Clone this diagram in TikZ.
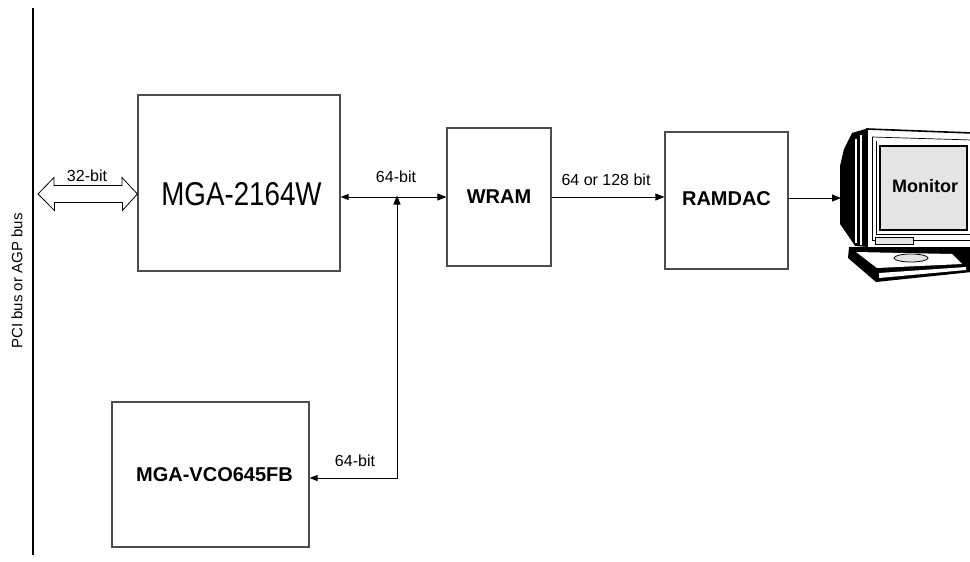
\documentclass[tikz,border=0pt]{standalone}
\usepackage{fontspec}
\setmainfont{Liberation Sans}
\usetikzlibrary{arrows.meta}

\definecolor{screengray}{gray}{0.9}
\definecolor{boxgray}{gray}{0.3}

\tikzset{
  chip/.style={rectangle, draw=boxgray, line width=1.2pt, inner sep=0pt, font=\fontsize{20}{22}\bfseries\selectfont},
  buslabel/.style={font=\fontsize{16}{18}\selectfont, inner sep=0pt},
  sig/.style={line width=0.9pt, -{Triangle[length=9pt,width=7pt]}},
  sigboth/.style={line width=0.9pt, {Triangle[length=8pt,width=6pt]}-{Triangle[length=9pt,width=7pt]}},
}

\begin{document}
\begin{tikzpicture}[x=1pt, y=-1pt]
  \useasboundingbox (0,0) rectangle (970,562);

  % system bus
  \coordinate (busTop) at (33,8);
  \coordinate (busBot) at (33,555);
  \draw[line width=2.6pt] (busTop) -- (busBot);
  \node[rotate=90, font=\fontsize{15}{17}\selectfont] (busName) at (17,281) {PCI bus or AGP bus};

  % chips
  \node[chip, minimum width=202pt, minimum height=176pt] at (239,183)  (mga)   {};
  \node[font=\fontsize{33}{36}\selectfont, inner sep=0pt] at (241.5,194) (mgaName) {\scalebox{0.84}[1]{MGA-2164W}};
  \node[chip, minimum width=104pt, minimum height=138pt] at (499,197)  (wram)   {WRAM};
  \node[chip, minimum width=123pt, minimum height=137pt] at (726.5,200.5) (ramdac) {\raisebox{4pt}{RAMDAC}};
  \node[chip, minimum width=197pt, minimum height=145pt] at (210.5,474.5) (vco)   {\hspace{8pt}MGA-VCO645FB};

  % 32-bit bus interface
  \coordinate (busIn) at (38,194);
  \draw[line width=0.8pt] (busIn) -- ++(16,-16.5) -- ++(0,8) -- ++(68,0) -- ++(0,-8)
    -- (mga.west |- busIn) -- ++(-15,16.5) -- ++(0,-8) -- ++(-68,0) -- ++(0,8) -- cycle;
  \node[buslabel] at (87,175.5) (lbl32) {32-bit};

  % memory bus
  \coordinate (junc) at (397,197);
  \draw[sigboth] (mga.east |- junc) -- (wram.west |- junc);
  \node[buslabel] at (396,176.5) (lbl64a) {64-bit};
  \draw[sigboth] ([yshift=-3.5pt]vco.east) -| ([yshift=1.5pt]junc);
  \node[buslabel] at (355,461) (lbl64b) {64-bit};

  \draw[sig] (wram.east) -- (ramdac.west |- wram.east);
  \node[buslabel] at (606,180) (lbl128) {64 or 128 bit};

  % monitor
  \coordinate (monIn) at (841,198);
  \draw[sig] (ramdac.east |- monIn) -- (monIn);

  \fill (852,133) -- (869,128) -- (869,247) -- (855,246) -- (847,234) -- (840,224) -- (840,166) -- (844,149) -- cycle;
  \draw[white, line width=1.1pt] (856,139) -- (856,243);
  \draw[white, line width=1.1pt] (861,135) -- (861,245);
  \fill (849,247) -- (972,247) -- (972,272) -- (876,282) -- (848,258) -- cycle;
  \fill[white] (856,252) -- (877,268) -- (962,264) -- (952,254) -- cycle;
  \fill[white] (879,273) -- (966,267) -- (966,270) -- (879,278) -- cycle;
  \filldraw[fill=screengray, line width=0.8pt] (911,258) ellipse (17 and 4);
  \filldraw[fill=white, line width=1.6pt] (867,129) -- (972,133) -- (972,248) -- (867,248) -- cycle;
  \draw[line width=0.7pt] (872,137) -- (972,140);
  \draw[line width=0.7pt] (872,137) -- (872,240) -- (972,240);
  \draw[line width=0.7pt] (876,141) -- (876,234) -- (972,234);
  \filldraw[fill=screengray, line width=1.2pt] (880,146) rectangle (967,230);
  \filldraw[fill=screengray, line width=0.8pt] (875,237) rectangle (913,244);
  \node[font=\fontsize{18}{20}\bfseries\selectfont, inner sep=0pt] at (925,186) (monName) {Monitor};
\end{tikzpicture}
\end{document}
